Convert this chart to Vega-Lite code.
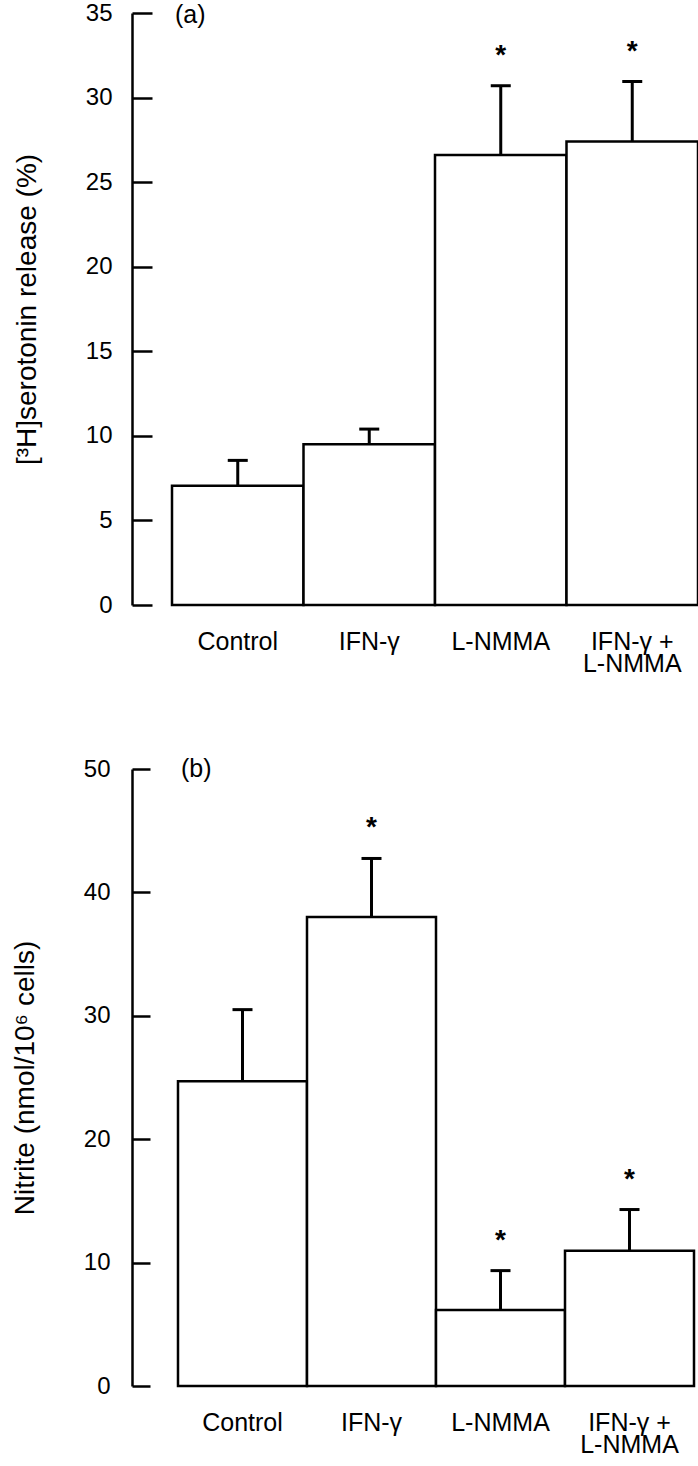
{
  "$schema": "https://vega.github.io/schema/vega-lite/v6.json",
  "background": "white",
  "padding": {"left": 11, "top": 1, "right": 0, "bottom": 0},
  "config": {
    "view": {"stroke": null},
    "font": "Liberation Sans",
    "axis": {"labelFont": "Liberation Sans", "titleFont": "Liberation Sans", "labelColor": "black", "titleColor": "black", "domainColor": "black", "tickColor": "black", "grid": false}
  },
  "spacing": 81,
  "vconcat": [
    {
      "width": 526,
      "height": 592,
      "data": {"values": [
        {"group": "Control", "value": 7.05, "err": 8.55, "sig": false},
        {"group": "IFN-γ", "value": 9.5, "err": 10.4, "sig": false},
        {"group": "L-NMMA", "value": 26.6, "err": 30.7, "sig": true},
        {"group": "IFN-γ + L-NMMA", "value": 27.4, "err": 30.95, "sig": true}
      ]},
      "encoding": {
        "x": {
          "field": "group", "type": "nominal", "sort": null,
          "scale": {"paddingInner": 0, "paddingOuter": 0},
          "axis": {"title": null, "ticks": false, "domain": false, "labelAngle": 0, "labelFontSize": 25, "labelPadding": 24, "labelLineHeight": 22, "labelBaseline": "top",
                   "labelExpr": "datum.value == 'IFN-γ + L-NMMA' ? ['IFN-γ +', 'L-NMMA'] : datum.value"}
        }
      },
      "layer": [
        {
          "mark": {"type": "bar", "fill": "white", "stroke": "black", "strokeWidth": 2.5},
          "encoding": {
            "y": {"field": "value", "type": "quantitative", "title": "[³H]serotonin release (%)",
                  "scale": {"domain": [0, 35], "nice": false, "zero": true},
                  "axis": {"values": [0, 5, 10, 15, 20, 25, 30, 35], "tickSize": -20, "labelPadding": 40, "offset": 40, "domainWidth": 2.5, "tickWidth": 2.5, "labelFontSize": 24, "titleFontSize": 28, "titleFontWeight": "normal", "titlePadding": 44}}
          }
        },
        {
          "mark": {"type": "rule", "strokeWidth": 3, "color": "black"},
          "encoding": {
            "y": {"field": "value", "type": "quantitative", "title": "[³H]serotonin release (%)"},
            "y2": {"field": "err"}
          }
        },
        {
          "mark": {"type": "tick", "orient": "horizontal", "size": 20, "thickness": 3, "color": "black", "opacity": 1},
          "encoding": {
            "y": {"field": "err", "type": "quantitative", "title": "[³H]serotonin release (%)"}
          }
        },
        {
          "transform": [{"filter": "datum.sig"}],
          "mark": {"type": "text", "text": "*", "fontSize": 28, "fontWeight": "bold", "dy": -22, "baseline": "alphabetic", "color": "black"},
          "encoding": {
            "y": {"field": "err", "type": "quantitative", "title": "[³H]serotonin release (%)"}
          }
        },
        {
          "data": {"values": [{"panel": "(a)"}]},
          "mark": {"type": "text", "align": "left", "baseline": "middle", "fontSize": 25, "dx": 3, "dy": 2, "color": "black"},
          "encoding": {
            "x": {"datum": "Control", "bandPosition": 0},
            "y": {"datum": 35, "type": "quantitative", "title": "[³H]serotonin release (%)"},
            "text": {"field": "panel"}
          }
        }
      ]
    },
    {
      "width": 528,
      "height": 617,
      "data": {"values": [
        {"group": "Control", "value": 24.7, "err": 30.5, "sig": false},
        {"group": "IFN-γ", "value": 38.0, "err": 42.75, "sig": true},
        {"group": "L-NMMA", "value": 6.16, "err": 9.35, "sig": true},
        {"group": "IFN-γ + L-NMMA", "value": 10.96, "err": 14.3, "sig": true}
      ]},
      "encoding": {
        "x": {
          "field": "group", "type": "nominal", "sort": null,
          "scale": {"paddingInner": 0, "paddingOuter": 0.0465},
          "axis": {"title": null, "ticks": false, "domain": false, "labelAngle": 0, "labelFontSize": 25, "labelPadding": 24, "labelLineHeight": 22, "labelBaseline": "top",
                   "labelExpr": "datum.value == 'IFN-γ + L-NMMA' ? ['IFN-γ +', 'L-NMMA'] : datum.value"}
        }
      },
      "layer": [
        {
          "mark": {"type": "bar", "fill": "white", "stroke": "black", "strokeWidth": 2.5},
          "encoding": {
            "y": {"field": "value", "type": "quantitative", "title": "Nitrite (nmol/10⁶ cells)",
                  "scale": {"domain": [0, 50], "nice": false, "zero": true},
                  "axis": {"values": [0, 10, 20, 30, 40, 50], "tickSize": -18, "labelPadding": 40, "offset": 40, "domainWidth": 2.5, "tickWidth": 2.5, "labelFontSize": 24, "titleFontSize": 28, "titleFontWeight": "normal", "titlePadding": 44}}
          }
        },
        {
          "mark": {"type": "rule", "strokeWidth": 3, "color": "black"},
          "encoding": {
            "y": {"field": "value", "type": "quantitative", "title": "Nitrite (nmol/10⁶ cells)"},
            "y2": {"field": "err"}
          }
        },
        {
          "mark": {"type": "tick", "orient": "horizontal", "size": 20, "thickness": 3, "color": "black", "opacity": 1},
          "encoding": {
            "y": {"field": "err", "type": "quantitative", "title": "Nitrite (nmol/10⁶ cells)"}
          }
        },
        {
          "transform": [{"filter": "datum.sig"}],
          "mark": {"type": "text", "text": "*", "fontSize": 28, "fontWeight": "bold", "dy": -22, "baseline": "alphabetic", "color": "black"},
          "encoding": {
            "y": {"field": "err", "type": "quantitative", "title": "Nitrite (nmol/10⁶ cells)"}
          }
        },
        {
          "data": {"values": [{"panel": "(b)"}]},
          "mark": {"type": "text", "align": "left", "baseline": "middle", "fontSize": 25, "dx": 3, "dy": 0, "color": "black"},
          "encoding": {
            "x": {"datum": "Control", "bandPosition": 0},
            "y": {"datum": 50, "type": "quantitative", "title": "Nitrite (nmol/10⁶ cells)"},
            "text": {"field": "panel"}
          }
        }
      ]
    }
  ]
}
